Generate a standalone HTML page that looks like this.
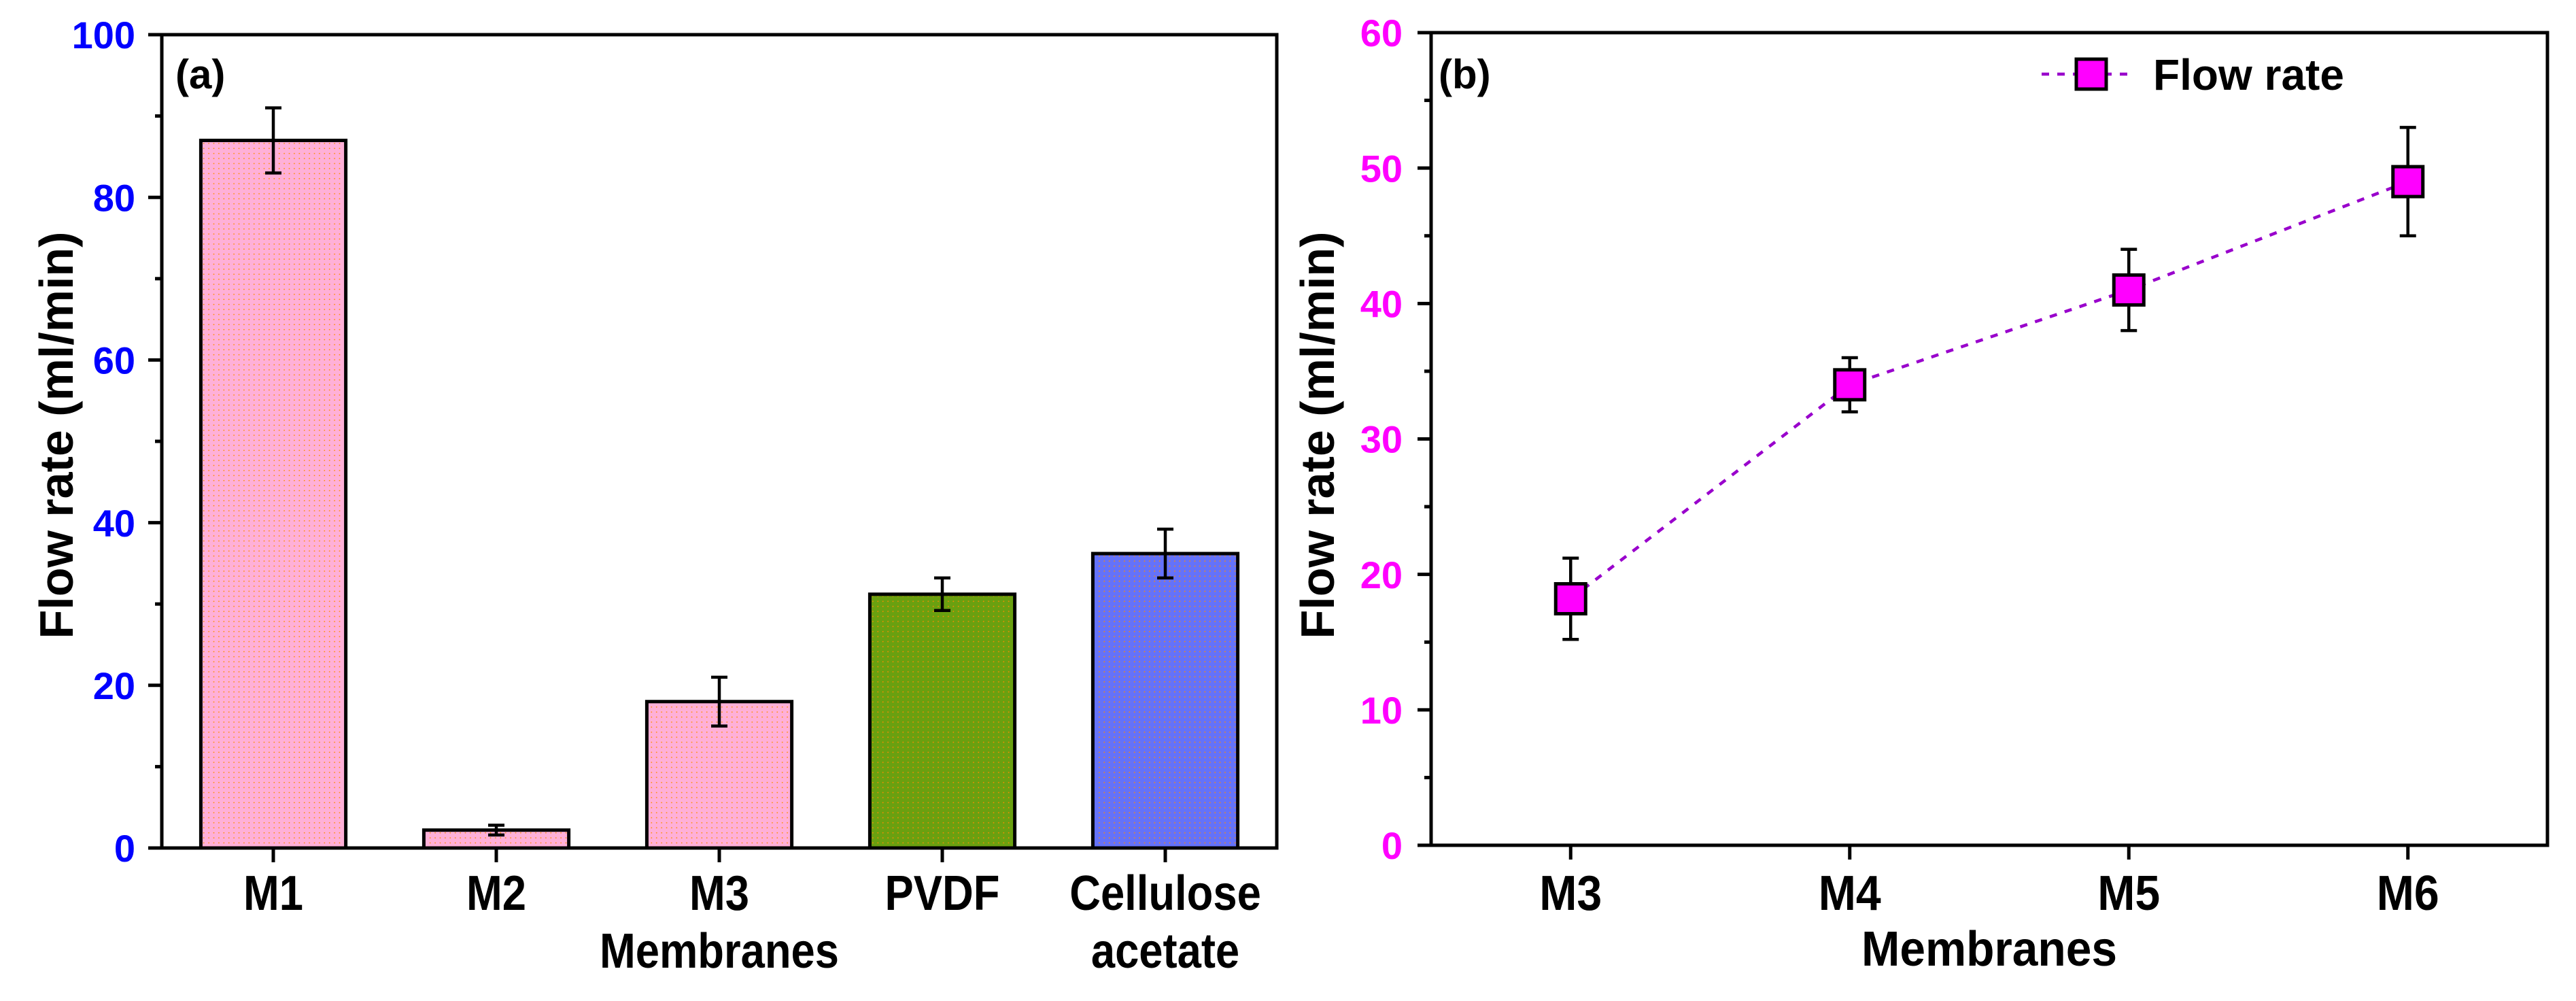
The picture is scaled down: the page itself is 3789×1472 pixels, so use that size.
<!DOCTYPE html>
<html><head><meta charset="utf-8"><style>
html,body{margin:0;padding:0;background:#fff;}
svg{display:block;}
text{font-family:"Liberation Sans",sans-serif;font-weight:bold;}
</style></head><body>
<svg id="fig" width="3789" height="1472" viewBox="0 0 3789 1472" xmlns="http://www.w3.org/2000/svg">
<defs>
<pattern id="dots" width="7.4" height="7.4" patternUnits="userSpaceOnUse">
<circle cx="3.7" cy="3.7" r="0.9" fill="#ff8c00"/>
</pattern>
</defs>
<g id="pa"></g>
<g id="pb"></g>
</svg>
<script>
// Panel (a) data
const catsA = ["M1","M2","M3","PVDF","Cellulose"];
const catsA2 = ["","","Membranes","","acetate"];
const valsA = [87, 2.2, 18, 31.2, 36.2];
const errA = [4, 0.6, 3, 2, 3];
const colorsA = ["#ffb0d8","#ffb0d8","#ffb0d8","#6aa010","#6472fa"];
const ticksA = [0,20,40,60,80,100];
// Panel (b) data
const catsB = ["M3","M4","M5","M6"];
const valsB = [18.2, 34, 41, 49];
const errB = [3, 2, 3, 4];
const ticksB = [0,10,20,30,40,50,60];

const NS="http://www.w3.org/2000/svg";
function mk(parent,tag,attrs,txt){const e=document.createElementNS(NS,tag);for(const k in attrs)e.setAttribute(k,attrs[k]);if(txt!==undefined)e.textContent=txt;parent.appendChild(e);return e;}

function axes(g,o){
  const {L,R,T,B,ymax,ticks,minorStep,tickColor,cats,cats2,titleX,tickFont,labGap,sx}=o;
  const ncat=cats.length;
  const ys=v=>B-(v/ymax)*(B-T);
  const xs=i=>L+(i+0.5)*(R-L)/ncat;
  for(let v=minorStep; v<ymax; v+=minorStep*2){
    const t=mk(g,'line',{x1:L-10,x2:L,y1:ys(v),y2:ys(v),stroke:'#000','stroke-width':5});
    
    
  }
  ticks.forEach(v=>{
    const t=mk(g,'line',{x1:L-20,x2:L,y1:ys(v),y2:ys(v),stroke:'#000','stroke-width':5});
    
    
    const l=mk(g,'text',{x:L-labGap,y:ys(v)+tickFont*0.36,'text-anchor':'end','font-size':tickFont,fill:tickColor},String(v));
    
    
  });
  cats.forEach((c,i)=>{
    const t=mk(g,'line',{x1:xs(i),x2:xs(i),y1:B,y2:B+21,stroke:'#000','stroke-width':5});
    
    
    const l=mk(g,'text',{x:0,y:0,'text-anchor':'middle','font-size':72,fill:'#000',transform:`translate(${xs(i)},1338) scale(${sx},1)`},c);
    
    
    if(cats2 && cats2[i]){
      const l2=mk(g,'text',{x:0,y:0,'text-anchor':'middle','font-size':72,fill:'#000',transform:`translate(${xs(i)},1423) scale(${sx},1)`},cats2[i]);
      
      
    }
  });
  const yt=mk(g,'text',{x:0,y:0,'text-anchor':'middle','font-size':70,fill:'#000',transform:`translate(${titleX},640) rotate(-90)`},'Flow rate (ml/min)');
  
  
  return {xs,ys};
}
function frame(g,L,R,T,B){
  const f=mk(g,'rect',{x:L,y:T,width:R-L,height:B-T,fill:'none',stroke:'#000','stroke-width':5});
  
  
}
function errbar(g,x,y1,y2,cap){
  const e=mk(g,'path',{d:`M${x},${y1}V${y2}M${x-cap},${y1}H${x+cap}M${x-cap},${y2}H${x+cap}`,stroke:'#000','stroke-width':4.5,fill:'none'});
  
  
}

// Panel a
(function(){
  const g=document.getElementById('pa');
  const L=238,R=1878,T=51,B=1247;
  const {xs,ys}=axes(g,{L,R,T,B,ymax:100,ticks:ticksA,minorStep:10,tickColor:'#0000ff',cats:catsA,cats2:catsA2,titleX:107,tickFont:56,labGap:39,sx:0.88});
  const bw=0.65*(R-L)/catsA.length;
  valsA.forEach((v,i)=>{
    const r=mk(g,'rect',{x:xs(i)-bw/2,y:ys(v),width:bw,height:B-ys(v),fill:colorsA[i],stroke:'#000','stroke-width':5});
    
    
    const p=mk(g,'rect',{x:xs(i)-bw/2+3,y:ys(v)+3,width:bw-6,height:Math.max(0,B-ys(v)-6),fill:'url(#dots)'});
    
    
    errbar(g,xs(i),ys(v+errA[i]),ys(v-errA[i]),12);
  });
  frame(g,L,R,T,B);
  const lab=mk(g,'text',{x:258,y:130,'font-size':60,fill:'#000'},'(a)');
  
  
})();

// Panel b
(function(){
  const g=document.getElementById('pb');
  const L=2105,R=3747,T=48,B=1243;
  const {xs,ys}=axes(g,{L,R,T,B,ymax:60,ticks:ticksB,minorStep:5,tickColor:'#ff00ff',cats:catsB,cats2:null,titleX:1962,tickFont:56,labGap:42,sx:0.92});
  const xl=mk(g,'text',{x:0,y:0,'text-anchor':'middle','font-size':72,fill:'#000',transform:`translate(${(L+R)/2},1420) scale(0.94,1)`},'Membranes');
  
  
  valsB.forEach((v,i)=>errbar(g,xs(i),ys(v+errB[i]),ys(v-errB[i]),12));
  const pts=valsB.map((v,i)=>xs(i)+','+ys(v)).join(' ');
  const line=mk(g,'polyline',{points:pts,fill:'none',stroke:'#9900cc','stroke-width':4.5,'stroke-dasharray':'11 12'});
  
  
  valsB.forEach((v,i)=>{
    const m=mk(g,'rect',{x:xs(i)-22,y:ys(v)-22,width:44,height:44,fill:'#ff00ff',stroke:'#000','stroke-width':5});
    
    
  });
  frame(g,L,R,T,B);
  const lab=mk(g,'text',{x:2116,y:130,'font-size':60,fill:'#000'},'(b)');
  
  
  const lg=mk(g,'g',{});
  
  
  const ll=mk(lg,'line',{x1:3003,x2:3138,y1:109,y2:109,stroke:'#9900cc','stroke-width':4.5,'stroke-dasharray':'11 12'});
  
  
  const lm=mk(lg,'rect',{x:3054,y:87,width:44,height:44,fill:'#ff00ff',stroke:'#000','stroke-width':5});
  
  
  const lt=mk(lg,'text',{x:3167,y:132,'font-size':64,fill:'#000'},'Flow rate');
  
  
})();
</script>
</body></html>
